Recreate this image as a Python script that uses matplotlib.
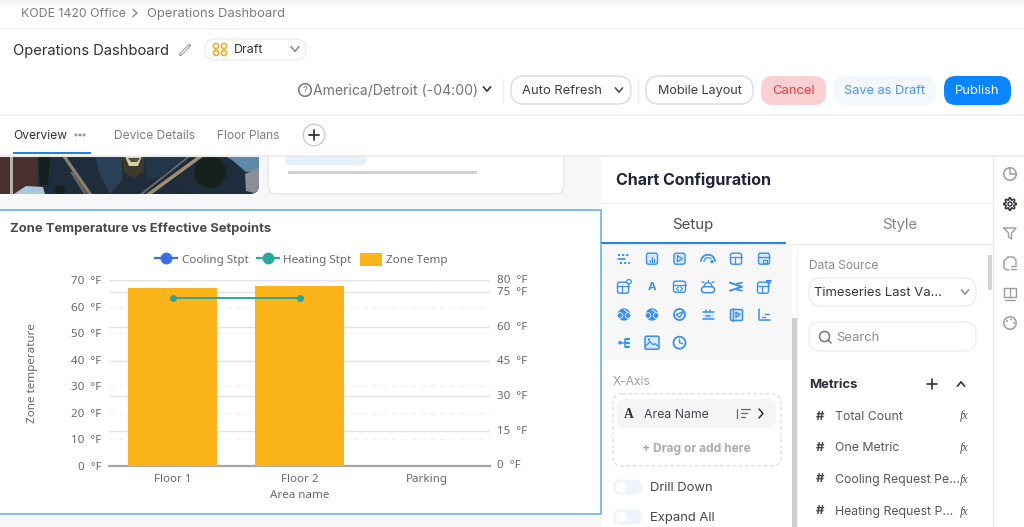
import numpy as np
import matplotlib
matplotlib.use("Agg")
import matplotlib.pyplot as plt
from matplotlib.patches import FancyBboxPatch, Rectangle, Circle, Polygon, Arc
from matplotlib.lines import Line2D
from matplotlib.transforms import ScaledTranslation

# ---- chart data ----
categories = ["Floor 1", "Floor 2", "Parking"]
zone_temp = [67.0, 68.1, 0.0]
heating_stpt = [72.3, 72.3, np.nan]
cooling_stpt = [np.nan, np.nan, np.nan]
left_ticks = [0, 10, 20, 30, 40, 50, 60, 70]
right_ticks = [0, 15, 30, 45, 60, 75, 80]
chart_title = "Zone Temperature vs Effective Setpoints"
metrics = ["Total Count", "One Metric", "Cooling Request Pe...", "Heating Request P..."]

W, H = 1024, 527
UI = "Inter"
CH = "Noto Sans"
px = 72 / 100  # pt per px at dpi 100

fig = plt.figure(figsize=(W / 100, H / 100), dpi=100, facecolor="#ffffff")
ui = fig.add_axes([0, 0, 1, 1], zorder=0)
ui.set_xlim(0, W)
ui.set_ylim(H, 0)
ui.axis("off")


def rr(x0, y0, x1, y1, r=4, fc="#ffffff", ec="none", lw=1, ls="-", z=1):
    p = FancyBboxPatch((x0 + r, y0 + r), x1 - x0 - 2 * r, y1 - y0 - 2 * r,
                       boxstyle=f"round,pad={r},rounding_size={r}", fc=fc, ec=ec, lw=lw, ls=ls, zorder=z)
    ui.add_patch(p)
    return p


def rect(x0, y0, x1, y1, fc, z=1):
    p = Rectangle((x0, y0), x1 - x0, y1 - y0, fc=fc, ec="none", zorder=z)
    ui.add_patch(p)
    return p


def tx(x, y, s, size=13, color="#555a66", ha="left", weight="normal", family=UI, z=5, **kw):
    return ui.text(x, y + 1, s, fontsize=size * px, color=color, ha=ha, va="center",
                   fontweight=weight, family=family, zorder=z, **kw)


def ln(xs, ys, color="#666666", lw=1.0, z=5, **kw):
    ui.plot(xs, ys, color=color, lw=lw, zorder=z, solid_capstyle="round", **kw)


def chev(x, y, s=3.5, color="#555555", lw=1.1, up=False):
    d = -s * 0.6 if up else s * 0.6
    ln([x - s, x, x + s], [y - d, y + d, y - d], color=color, lw=lw)


def circ(x, y, r, fc="none", ec="#666666", lw=1.0, z=5, **kw):
    ui.add_patch(Circle((x, y), r, fc=fc, ec=ec, lw=lw, zorder=z, **kw))


# page background
rect(0, 155, 601, H, "#f6f7f9", z=0)
rect(0, 0, W, 4, "#f3f3f3", z=0)
rect(0, 4, W, 8, "#fafafa", z=0)
ln([0, W], [28, 28], "#eeeeee", 1, z=1)
ln([0, W], [115, 115], "#f0f0f0", 1.2, z=1)

# breadcrumb
tx(21, 13, "KODE 1420 Office", 12.3, "#777b82")
ln([133, 137, 133], [9.5, 13, 16.5], "#888888", 1)
tx(147, 13, "Operations Dashboard", 13, "#777b82")

# title row
tx(13, 50, "Operations Dashboard", 14.7, "#2e3138")
ln([180.5, 189.5], [54.5, 45.5], "#999999", 2.2)
ln([181, 189], [54, 46], "#ffffff", 0.8)
rr(205, 39, 306, 60, 10, ec="#eeeeee")
for cx, cy in [(216, 46), (224, 46), (216, 53), (224, 53)]:
    circ(cx, cy, 2.6, ec="#f5a623", lw=1.1)
tx(234, 49, "Draft", 12.5, "#33363d")
chev(295, 49, 4, "#888888")

# toolbar
circ(305, 90, 6.3, ec="#777777", lw=1.1)
tx(305, 89.5, "?", 9, "#777777", ha="center")
tx(313, 90, "America/Detroit (-04:00)", 14, "#70757f")
chev(487, 89, 3.6, "#333333", 1.2)
ln([503, 503], [79, 102], "#eeeeee", 1)
rr(511, 76, 631, 104, 13, ec="#dcdcdc")
tx(522, 90, "Auto Refresh", 13, "#3a3d45")
chev(619, 90, 3.6, "#444444")
ln([638, 638], [79, 102], "#eeeeee", 1)
rr(646, 76, 753, 104, 13, ec="#dcdcdc")
tx(700, 90, "Mobile Layout", 12.6, "#3a3d45", ha="center")
rr(761, 76, 826, 105, 12, fc="#fbd0d3")
tx(793.5, 90, "Cancel", 13, "#e2403f", ha="center")
rr(834, 76, 936, 105, 12, fc="#f2f8fe")
tx(885, 90, "Save as Draft", 12.8, "#4a96ee", ha="center")
rr(944, 76, 1011, 105, 12, fc="#0a84ff")
tx(977.5, 90, "Publish", 13, "#ffffff", ha="center")

# photo tile
base = rr(-12, 140, 259, 194, 9, fc="#1f2c3b", z=1)
clip = rr(-12, 140, 259, 194, 9, fc="none", z=1)
photo = [
    Rectangle((0, 156), 38, 40, fc="#4a2f2f"),
    Rectangle((10, 156), 2.5, 40, fc="#b9b3ac"),
    Polygon([(38, 156), (50, 156), (48, 185), (40, 185)], fc="#15201f"),
    Polygon([(62, 156), (88, 194), (92, 194), (66, 156)], fc="#8a7f70"),
    Polygon([(70, 172), (84, 194), (87, 194), (73, 172)], fc="#6d665e"),
    Polygon([(198, 156), (146, 194), (152, 194), (204, 156)], fc="#a08f72"),
    Polygon([(188, 156), (140, 194), (143, 194), (191, 156)], fc="#6b6a66"),
    Polygon([(122, 156), (145, 156), (143, 172), (133, 178), (124, 172)], fc="#3e3a2a"),
    Polygon([(125, 156), (142, 156), (138, 166), (129, 166)], fc="#d9cfa8"),
    Polygon([(128, 158), (140, 158), (137, 162), (131, 162)], fc="#55503a"),
    Circle((210, 172), 16, fc="#16211c"),
    Polygon([(225, 156), (259, 156), (259, 171), (246, 172), (232, 160)], fc="#5d8aa8"),
    Polygon([(245, 174), (259, 168), (259, 194), (246, 191)], fc="#8a8f96"),
    Polygon([(14, 194), (26, 186), (43, 187), (45, 194)], fc="#a9c6da"),
    Polygon([(95, 156), (122, 156), (122, 180), (110, 194), (100, 175)], fc="#2a4057"),
    Polygon([(146, 158), (185, 156), (165, 175), (146, 180)], fc="#22364a"),
    Circle((60, 190), 5, fc="#15201b"),
    Polygon([(172, 190), (200, 194), (172, 194)], fc="#1b2c22"),
]
for p in photo:
    p.set_zorder(2)
    p.set_edgecolor("none")
    ui.add_patch(p)
    p.set_clip_path(clip)

# small card
rr(268, 140, 564, 194, 9, ec="#e6e6e8")
rr(285, 150, 367, 165, 6, fc="#e6f0fb", z=2)
rect(288, 171, 477, 174, "#cfd0d8", z=2)

# tab strip sits above the scrolled content
rect(0, 116, W, 155, "#ffffff", z=3)
ln([0, W], [155.5, 155.5], "#ececec", 1.5, z=3)
tx(13, 135, "Overview", 12, "#30333a")
for cx in (76, 80, 84):
    circ(cx, 135, 1.5, fc="#999999", ec="none")
rect(13, 151.5, 91, 153.5, "#1b84e8", z=4)
tx(114, 135, "Device Details", 12, "#7a7e86")
tx(217, 135, "Floor Plans", 12, "#7a7e86")
circ(314, 135, 10.8, fc="#ffffff", ec="#cccccc")
ln([309, 319], [135, 135], "#333333", 1.3, z=6)
ln([314, 314], [130, 140], "#333333", 1.3, z=6)

# chart card
rect(-2, 210, 601, 514, "#ffffff", z=1)
ln([-2, 600.5, 600.5, -2], [210, 210, 514, 514], "#62acdf", 1.1, z=2)
tx(10, 228, chart_title, 13, "#484a50", weight="bold", family=UI)

# config panel
rect(601, 156, 992, H, "#ffffff", z=1)
ln([992.5, 992.5], [156, H], "#ececec", 1, z=2)
tx(616, 179, "Chart Configuration", 16, "#20243a", weight="bold")
ln([601, 992], [202.5, 202.5], "#eeeeee", 1, z=2)
tx(693, 224, "Setup", 15, "#4a4d55", ha="center")
tx(900, 224, "Style", 15, "#82868e", ha="center")
ln([601, 992], [243.5, 243.5], "#eaeaea", 1, z=2)
rect(601, 242, 786, 244, "#1f86e6", z=3)
rect(601, 245, 792, 360, "#f7f7f8", z=1)
rect(792, 318, 797, H, "#cfcfd2", z=2)
rect(797, 244, 798, H, "#f0f0f0", z=2)
rect(988, 255, 992, 290, "#d5d5d8", z=2)

# chart-type icons
BL = "#3a90ea"
LB = "#d6e8fc"


def box(x, y, s=5.5, fc=LB):
    rr(x - s, y - s, x + s, y + s, 2, fc=fc, ec=BL, lw=1, z=5)


def ic_dots(x, y):
    ln([x - 6, x + 6], [y - 4, y - 4], BL, 1.5, ls=(0, (1, 1)))
    ln([x - 6, x + 1], [y, y], BL, 1.2)
    ln([x - 4, x + 6], [y + 4, y + 4], BL, 1.5, ls=(0, (1, 1)))


def ic_chart(x, y):
    box(x, y)
    for dx, h in ((-2, 2), (0, 5), (2, 3)):
        ln([x + dx, x + dx], [y + 3, y + 3 - h], BL, 0.9)


def ic_play(x, y):
    box(x, y)
    ln([x - 2, x - 2, x + 3, x - 2], [y - 3, y + 3, y, y - 3], BL, 0.9)


def ic_gauge(x, y):
    ui.add_patch(Arc((x, y + 3), 14, 14, theta1=180, theta2=360, ec=BL, lw=1.3, zorder=5))
    ui.add_patch(Arc((x, y + 3), 8, 8, theta1=180, theta2=320, ec=BL, lw=0.9, zorder=5))
    circ(x + 4, y + 3, 1.6, fc=BL, ec="none")


def ic_layout(x, y):
    box(x, y, fc="none")
    ln([x - 5.5, x + 5.5], [y - 2, y - 2], BL, 0.9)
    ln([x - 1, x - 1], [y - 2, y + 5.5], BL, 0.9)


def ic_layoutb(x, y):
    box(x, y)
    ln([x - 5.5, x + 5.5], [y - 2, y - 2], BL, 0.9)
    ln([x - 1, x + 3, x + 3, x - 1, x - 1], [y + 1, y + 1, y + 4, y + 4, y + 1], BL, 0.8)


def ic_layoutdot(x, y):
    ic_layout(x - 1, y + 1)
    circ(x + 5, y - 5, 2.2, fc="#f7f7f8", ec=BL, lw=0.9, z=6)


def ic_a(x, y):
    tx(x, y - 1, "A", 11.5, BL, ha="center", weight="bold")


def ic_code(x, y):
    rr(x - 6, y - 5.5, x + 6, y + 5.5, 2, fc="none", ec=BL, lw=1, z=5)
    ln([x - 6, x + 6], [y - 2, y - 2], BL, 0.9)
    ln([x - 1, x - 3, x - 1], [y, y + 2, y + 4], BL, 0.8)
    ln([x + 1, x + 3, x + 1], [y, y + 2, y + 4], BL, 0.8)


def ic_weather(x, y):
    rr(x - 6.5, y, x + 6.5, y + 6, 3, fc="none", ec=BL, lw=1.1, z=5)
    ui.add_patch(Arc((x, y), 8, 8, theta1=180, theta2=360, ec=BL, lw=1, zorder=5))
    ln([x - 6, x - 4], [y - 5, y - 4], BL, 0.9)
    ln([x, x], [y - 7, y - 6], BL, 0.9)
    ln([x + 6, x + 4], [y - 5, y - 4], BL, 0.9)


def ic_scissor(x, y):
    ln([x - 6, x + 6, x - 6], [y - 4, y, y + 4], BL, 1.4)
    ln([x + 1, x + 6], [y - 3, y - 4], BL, 1.2)
    ln([x + 1, x + 6], [y + 3, y + 4], BL, 1.2)


def ic_layouttri(x, y):
    ic_layout(x - 1, y + 1)
    ln([x + 3, x + 7, x + 5, x + 3], [y - 6, y - 6, y - 3, y - 6], BL, 1.1, z=6)


def ic_globe(x, y):
    circ(x, y, 5.5, fc=BL, ec=BL)
    circ(x - 4, y + 1, 2.8, fc=BL, ec="#f7f7f8", lw=0.6, z=6)
    circ(x + 4, y + 1, 2.8, fc=BL, ec="#f7f7f8", lw=0.6, z=6)
    ln([x, x + 4], [y - 5, y - 2], "#f7f7f8", 0.7, z=7)


def ic_compass(x, y):
    circ(x, y, 5.5, ec=BL, lw=1.3)
    ln([x - 3, x + 4, x, x - 3], [y, y - 3, y + 3, y], BL, 1)


def ic_strip(x, y):
    ln([x - 5.5, x + 5.5], [y - 3, y - 3], BL, 1.1)
    rect(x - 5.5, y - 1, x + 5.5, y + 4, LB, z=5)
    ln([x - 5.5, x + 5.5], [y + 4, y + 4], BL, 1.1)
    ln([x - 2, x + 2], [y + 1, y + 1], BL, 1.1)
    ln([x - 2, x - 2], [y - 5, y - 3], BL, 1.1)
    ln([x + 2, x + 2], [y - 5, y - 3], BL, 1.1)


def ic_film(x, y):
    rr(x - 5.5, y - 5, x + 6.5, y + 6, 1.5, fc=LB, ec=BL, lw=1.1, z=5)
    ln([x - 3, x - 3], [y - 7, y + 6], BL, 1)
    ln([x, x, x + 4, x], [y - 2, y + 3, y, y - 2], BL, 1)


def ic_axes(x, y):
    ln([x - 5.5, x - 5.5, x + 6], [y - 6, y + 5, y + 5], BL, 1.1)
    ln([x - 2, x + 1], [y + 2, y + 2], BL, 1)
    ln([x + 1, x + 5], [y - 1, y - 1], BL, 1)


def ic_tree(x, y):
    circ(x - 4, y, 1.8, fc=BL, ec="none")
    ln([x - 4, x + 1], [y, y], BL, 1.1)
    ln([x + 1, x + 1], [y - 4, y + 4], BL, 1.1)
    for dy in (-4, 0, 4):
        ln([x + 2, x + 5], [y + dy, y + dy], BL, 1.6)


def ic_image(x, y):
    rr(x - 7, y - 6.5, x + 7, y + 6.5, 1.5, fc=LB, ec=BL, lw=1.1, z=5)
    ln([x - 7, x - 2, x + 1, x + 3, x + 7], [y + 4, y - 1, y + 2, y + 1, y + 4], BL, 0.9)
    circ(x - 3, y - 3, 1.2, fc=BL, ec="none", z=6)


def ic_clock(x, y):
    circ(x, y, 6, ec=BL, lw=1.3)
    ln([x, x, x + 3], [y - 3.5, y, y + 1], BL, 1)


icon_rows = [
    (258.7, [ic_dots, ic_chart, ic_play, ic_gauge, ic_layout, ic_layoutb]),
    (286.7, [ic_layoutdot, ic_a, ic_code, ic_weather, ic_scissor, ic_layouttri]),
    (314.5, [ic_globe, ic_globe, ic_compass, ic_strip, ic_film, ic_axes]),
    (342.7, [ic_tree, ic_image, ic_clock]),
]
icon_x = [624, 652, 679.5, 708, 736, 764]
for y, fns in icon_rows:
    for x, fn in zip(icon_x, fns):
        fn(x, y)

# x-axis config
tx(613, 381, "X-Axis", 12, "#9a9da3")
rr(613, 394, 781, 466, 9, fc="none", ec="#dddddd", lw=0.9, ls=(0, (3, 2)), z=2)
rr(617, 399, 776, 428, 8, fc="#f5f5f6", z=2)
tx(629, 413, "A", 13.5, "#333333", ha="center", weight="bold", family="Liberation Serif")
tx(644, 413.5, "Area Name", 12.3, "#44474e")
ln([737, 737], [409, 418], "#666666", 0.9)
ln([741, 750], [409, 409], "#666666", 0.9)
ln([741, 747], [413, 413], "#666666", 0.9)
ln([741, 745], [417, 417], "#666666", 0.9)
ln([759, 763, 759], [409, 413.5, 418], "#333333", 1.1)
tx(696, 448, "+ Drag or add here", 12, "#a9abb0", ha="center", weight="bold")
for y, s in ((487, "Drill Down"), (517, "Expand All")):
    rr(613, y - 7.5, 642, y + 7.5, 7.4, fc="#eef4fb", z=2)
    circ(621, y, 5.5, fc="#ffffff", ec="none", z=3)
    tx(650, y, s, 13, "#44474e")

# right config column
tx(809, 265, "Data Source", 12, "#888b92")
rr(809, 278, 976, 306, 12, ec="#eeeeee")
tx(814, 292, "Timeseries Last Va...", 13, "#33363d")
chev(965, 292, 3.6, "#888888")
rr(809, 322, 976, 351, 12, ec="#eeeeee")
circ(824.5, 336.5, 5, ec="#777777", lw=1.1)
ln([828, 831], [340, 343], "#777777", 1.1)
tx(836, 337, "Search", 13, "#888b92")
tx(809, 384, "Metrics", 13, "#2a2d38", weight="bold")
ln([927, 937], [384, 384], "#333333", 1.2)
ln([932, 932], [379, 389], "#333333", 1.2)
chev(961, 384, 3.6, "#333333", 1.2, up=True)
for y, s in zip((416, 447.5, 479, 511), metrics):
    tx(820, y - 0.5, "#", 13, "#444444", ha="center", weight="bold")
    tx(835, y - 0.5, s, 12.3, "#55585f")
    tx(964, y - 0.5, "fx", 12, "#555555", ha="center", style="italic", family="Liberation Serif")

# right rail icons
RG = "#9a9da2"
circ(1010, 174, 6.2, ec=RG, lw=1.1)
ln([1010, 1010, 1016], [168, 174, 174], RG, 1.1)
ang = np.linspace(0, 2 * np.pi, 145)
rad = 5.2 + 1.0 * np.clip(2 * np.cos(8 * ang), -1, 1)
ln(1010 + rad * np.cos(ang), 204 + rad * np.sin(ang), "#30333c", 1.0)
circ(1010, 204, 2, ec="#30333c", lw=1.0)
ln([1004, 1016, 1011.5, 1011.5, 1008.5, 1008.5, 1004], [228, 228, 233, 239, 237, 233, 228], RG, 1)
ln([1008, 1013, 1016, 1016], [257, 257, 260, 265], RG, 1)
ln([1008, 1004, 1004, 1007, 1009], [257, 261, 268, 270, 270], RG, 1)
ln([1011, 1016], [266, 266], RG, 1)
ln([1011, 1016], [269, 269], RG, 1)
ln([1004, 1004, 1010, 1016, 1016, 1010, 1004], [288, 297, 297, 297, 288, 288, 288], RG, 1)
ln([1010, 1010], [288, 297], RG, 1)
ln([1005, 1015], [300, 300], RG, 1)
circ(1010, 323, 6.2, ec=RG, lw=1.1)
for cx, cy in ((1007, 321), (1011, 319.5), (1014, 323)):
    circ(cx, cy, 1, fc=RG, ec="none")

# ---- chart ----
x0, x1, ytop, ybot = 109, 490, 280.5, 465.5
ax = fig.add_axes([x0 / W, 1 - ybot / H, (x1 - x0) / W, (ybot - ytop) / H], zorder=2)
ax.patch.set_alpha(0)
ax2 = ax.twinx()
ax2.set_zorder(1)
ax.set_zorder(2)
ax.set_xlim(-0.5, 2.5)
ax.set_ylim(0, 70)
ax2.set_ylim(0, 80)
pos = np.arange(len(categories))

ax.set_axisbelow(True)
ax.yaxis.grid(True, color="#f3f3f5", lw=1, ls=(0, (4, 3)))
ax2.set_axisbelow(True)
ax2.yaxis.grid(True, color="#e4e4e7", lw=1)

bars = ax.bar(pos, zone_temp, width=0.7, color="#fbb41a", zorder=3, label="Zone Temp")
twin_overlay = ax.twinx()
twin_overlay.set_ylim(0, 80)
twin_overlay.axis("off")
twin_overlay.plot(pos, heating_stpt, color="#2aa5a0", lw=1.4, marker="o", ms=4, zorder=4)
twin_overlay.plot(pos, cooling_stpt, color="#3b6fe0", lw=1.4, marker="o", ms=4, zorder=4)

for s in ("top", "left", "right"):
    for a in (ax, ax2):
        a.spines[s].set_visible(False)
for a in (ax2, twin_overlay):
    a.spines["bottom"].set_visible(False)
ax.spines["bottom"].set_color("#a8a8aa")
ax.spines["bottom"].set_linewidth(1.6)

tc = "#66696e"
fs = 11.6 * px
ax.set_xticks(pos, categories, fontsize=fs, color=tc, family=CH)
ax.set_yticks(left_ticks, [f"{v}  °F" for v in left_ticks], fontsize=fs, color=tc, family=CH)
ax2.set_yticks(right_ticks, [f"{v}  °F" for v in right_ticks], fontsize=fs, color=tc, family=CH)
ax.tick_params(axis="both", length=0)
ax.tick_params(axis="y", pad=5.5)
ax.tick_params(axis="x", pad=6)
ax2.tick_params(axis="y", length=0, pad=5)
lift = ScaledTranslation(0, 1.2 / 100, fig.dpi_scale_trans)
for lab in ax2.get_yticklabels():
    lab.set_transform(lab.get_transform() + lift)
ax.set_xlabel("Area name", fontsize=fs, color=tc, family=CH, labelpad=4)
ax.set_ylabel("Zone temperature", fontsize=fs, color=tc, family=CH, va="center")
ax.yaxis.set_label_coords((32 - x0) / (x1 - x0), (ybot - 373.5) / (ybot - ytop))

handles = [
    Line2D([], [], color="#3b6fe0", lw=1.6, marker="o", ms=7.5),
    Line2D([], [], color="#2aa5a0", lw=1.6, marker="o", ms=7.5),
    FancyBboxPatch((0, 0), 1, 1, boxstyle="round,pad=0,rounding_size=0.1", fc="#fbb41a", ec="none"),
]
fig.legend(handles, ["Cooling Stpt", "Heating Stpt", "Zone Temp"], ncol=3, frameon=False,
           loc="center", bbox_to_anchor=(301.5 / W, 1 - 259.5 / H),
           prop={"family": CH, "size": fs}, labelcolor=tc,
           handlelength=1.9, handleheight=1.3, handletextpad=0.35, columnspacing=0.75)

fig.savefig("out.png", dpi=100)
